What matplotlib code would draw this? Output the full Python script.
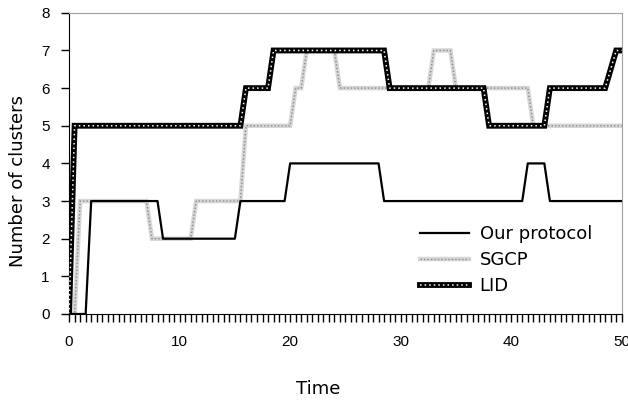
import matplotlib
matplotlib.use("Agg")
import matplotlib.pyplot as plt
from matplotlib.ticker import MultipleLocator

# breakpoints (time, number of clusters)
ours_t = [0, 1.5, 2, 8, 8.5, 15, 15.5, 19.5, 20, 28, 28.5, 41, 41.5, 43, 43.5, 50]
ours_y = [0, 0, 3, 3, 2, 2, 3, 3, 4, 4, 3, 3, 4, 4, 3, 3]

sgcp_t = [0, 0.5, 1, 7, 7.5, 11, 11.5, 15.5, 16, 20, 20.5, 21, 21.5, 24, 24.5,
          32.5, 33, 34.5, 35, 41.5, 42, 50]
sgcp_y = [0, 0, 3, 3, 2, 2, 3, 3, 5, 5, 6, 6, 7, 7, 6,
          6, 7, 7, 6, 6, 5, 5]

lid_t = [0, 0.5, 15.5, 16, 18, 18.5, 28.5, 29, 37.5, 38, 43, 43.5, 48.5, 49.5, 50]
lid_y = [0, 5, 5, 6, 6, 7, 7, 6, 6, 5, 5, 6, 6, 7, 7]

labels = ["Our protocol", "SGCP", "LID"]

plt.rcParams["font.family"] = ["DejaVu Sans"]

fig = plt.figure(figsize=(6.28, 4.01), dpi=100)
ax = fig.add_axes([0.110, 0.217, 0.880, 0.751])

# SGCP: light grey textured line
s1, = ax.plot(sgcp_t, sgcp_y, color="#d6d6d6", lw=3.2, solid_joinstyle="miter", zorder=2)
s2, = ax.plot(sgcp_t, sgcp_y, color="#8a8a8a", lw=1.0, ls=(0, (1, 1.5)), zorder=2.1)

# LID: thick black with white dots
l1, = ax.plot(lid_t, lid_y, color="black", lw=4.2, solid_joinstyle="miter", zorder=3)
l2, = ax.plot(lid_t, lid_y, color="white", lw=1.1, ls=(0, (1, 2)), zorder=3.1)

# our protocol: thin solid black
o1, = ax.plot(ours_t, ours_y, color="black", lw=1.6, zorder=4)

ax.set_xlim(0, 50)
ax.set_ylim(0, 8)
ax.xaxis.set_major_locator(MultipleLocator(10))
ax.xaxis.set_minor_locator(MultipleLocator(0.5))
ax.yaxis.set_major_locator(MultipleLocator(1))

ax.tick_params(axis="x", which="both", direction="out", length=6, width=1, pad=9)
ax.tick_params(axis="y", direction="out", length=6, width=1, pad=8)
for lab in ax.get_xticklabels() + ax.get_yticklabels():
    lab.set_fontfamily("Liberation Sans")
    lab.set_fontsize(11)

for side in ("top", "right"):
    ax.spines[side].set_color("#a0a0a0")
ax.spines["left"].set_color("black")
ax.spines["bottom"].set_color("black")

ax.set_xlabel("Time", fontsize=13)
ax.set_ylabel("Number of clusters", fontsize=13)
ax.xaxis.set_label_coords((318 - 69) / 553, -0.219)
ax.yaxis.set_label_coords((27 - 69) / 553, (314 - 181) / 301)

ax.legend([o1, (s1, s2), (l1, l2)], labels, loc="upper left",
          bbox_to_anchor=((413 - 69) / 553, (314 - 218) / 301), frameon=False,
          fontsize=13, handlelength=2.7, handletextpad=0.6, labelspacing=0.45,
          borderaxespad=0)

fig.savefig("out.png", dpi=100)
